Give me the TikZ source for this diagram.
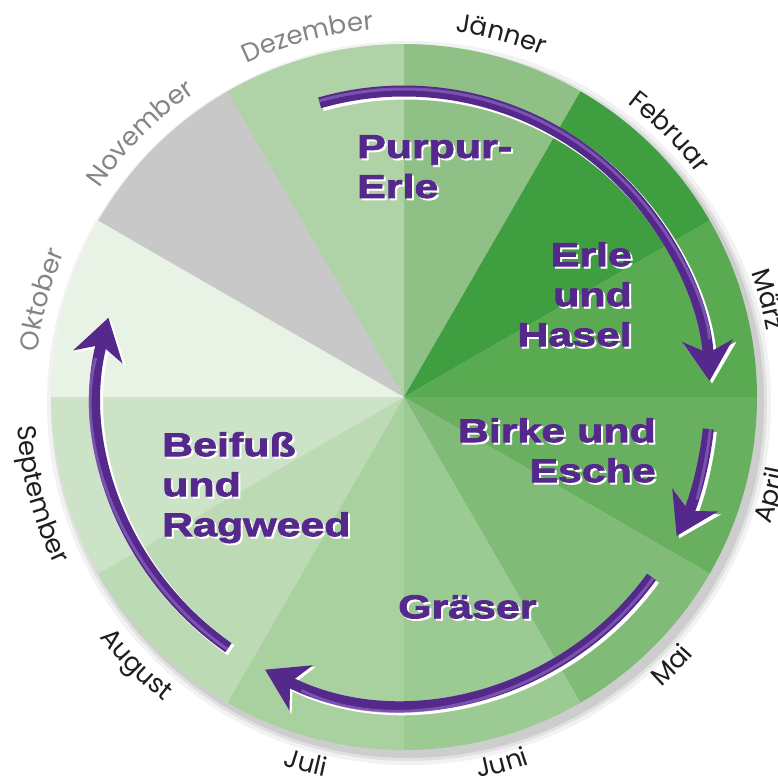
\documentclass[tikz,border=0pt]{standalone}
\usepackage{fontspec}
\usetikzlibrary{arrows.meta,decorations.text}
\newfontfamily\pollenfont{Liberation Sans}[FakeStretch=1.3,FakeBold=2.5]
\newfontfamily\monthfont{Poppins}
\newcommand\monthsize{\fontsize{26}{30}\selectfont}

\definecolor{pollenpurple}{HTML}{55288C}
\definecolor{pollenlight}{HTML}{8A66BD}
\definecolor{monthdark}{HTML}{1E1E1E}
\definecolor{monthgrey}{HTML}{858585}
\definecolor{secJan}{HTML}{8FC186}
\definecolor{secFeb}{HTML}{3F9E40}
\definecolor{secMar}{HTML}{5AAA52}
\definecolor{secApr}{HTML}{68B05F}
\definecolor{secMai}{HTML}{80BB77}
\definecolor{secJun}{HTML}{9BCA92}
\definecolor{secJul}{HTML}{A9D1A0}
\definecolor{secAug}{HTML}{BCDAB4}
\definecolor{secSep}{HTML}{CDE3C8}
\definecolor{secOkt}{HTML}{E8F2E5}
\definecolor{secNov}{HTML}{C8C8C8}
\definecolor{secDez}{HTML}{AFD3A6}

\tikzset{
  pollen/.style={font=\pollenfont\bfseries\fontsize{33}{40}\selectfont, text=pollenpurple, inner sep=0pt},
  pollen shadow/.style={pollen, text=white},
  arrowwhite/.style={draw=white, line width=12pt, -{Stealth[length=40pt,width=52pt,inset=12pt]}},
  arrowbody/.style={draw=pollenpurple, line width=11pt, -{Stealth[length=40pt,width=50pt,inset=12pt]}},
  arrowshine/.style={draw=pollenlight, line width=3pt, opacity=0.7, shorten >=42pt}
}

% month label along the rim, upper half reads clockwise
\newcommand\upmonth[3]{%
  \path[decorate, decoration={text along path, text align=center, text={|\monthfont\monthsize\color{#2}|#3}}]
    (#1+22:369) arc[start angle=#1+22, end angle=#1-22, radius=369];}
% lower half reads counterclockwise
\newcommand\lowmonth[3]{%
  \path[decorate, decoration={text along path, text align=center, text={|\monthfont\monthsize\color{#2}|#3}}]
    (#1-22:388) arc[start angle=#1-22, end angle=#1+22, radius=388];}

\begin{document}
\begin{tikzpicture}[x=1pt,y=1pt]
  \useasboundingbox (-404,-380) rectangle (374,397);
  % soft shadow of the disc
  \foreach \r/\o in {362/0.05,358/0.07,355/0.09}
    \fill[black,opacity=\o] (5,-6) circle (\r);
  % the twelve months
  \foreach \from/\col in {90/secJan,60/secFeb,30/secMar,0/secApr,-30/secMai,-60/secJun,
                          -90/secJul,-120/secAug,-150/secSep,-180/secOkt,150/secNov,120/secDez}
    \fill[\col] (0,0) -- (\from:353) arc[start angle=\from, end angle=\from-30, radius=353] -- cycle;

  % season arrows
  \foreach \name/\from/\to in {erle/106/3,birke/-6/-27,gras/-36/-117,beifuss/-125/-195}{
    \coordinate (\name-start) at (\from:306);
    \draw[arrowwhite] ([shift={(2.5,-2.5)}]\name-start) arc[start angle=\from, end angle=\to, radius=306];
    \draw[arrowbody] (\name-start) arc[start angle=\from, end angle=\to, radius=306];
    \draw[arrowshine] (\from:308) arc[start angle=\from, end angle=\to, radius=308];
  }

  % pollen labels
  \foreach \name/\x/\y/\anc/\al/\txt in {purpur/-47/262/north west/left/{Purpur-\\Erle},
      hasel/228/155/north east/right/{Erle\\und\\Hasel},
      birke/252/-21/north east/right/{Birke und\\Esche},
      gras/-6/-198/north west/left/{Gräser},
      beifuss/-242/-35/north west/left/{Beifuß\\und\\Ragweed}}{
    \node[pollen shadow, anchor=\anc, align=\al] (\name-shadow) at (\x+2,\y-2) {\txt};
    \node[pollen, anchor=\anc, align=\al] (\name) at (\x,\y) {\txt};
  }

  % month names
  \upmonth{165}{monthgrey}{Oktober}
  \upmonth{135}{monthgrey}{November}
  \upmonth{105}{monthgrey}{Dezember}
  \upmonth{75}{monthdark}{Jänner}
  \upmonth{45}{monthdark}{Februar}
  \upmonth{15}{monthdark}{März}
  \lowmonth{-15}{monthdark}{April}
  \lowmonth{-45}{monthdark}{Mai}
  \lowmonth{-75}{monthdark}{Juni}
  \lowmonth{-105}{monthdark}{Juli}
  \lowmonth{-135}{monthdark}{August}
  \lowmonth{-165}{monthdark}{September}
\end{tikzpicture}
\end{document}
